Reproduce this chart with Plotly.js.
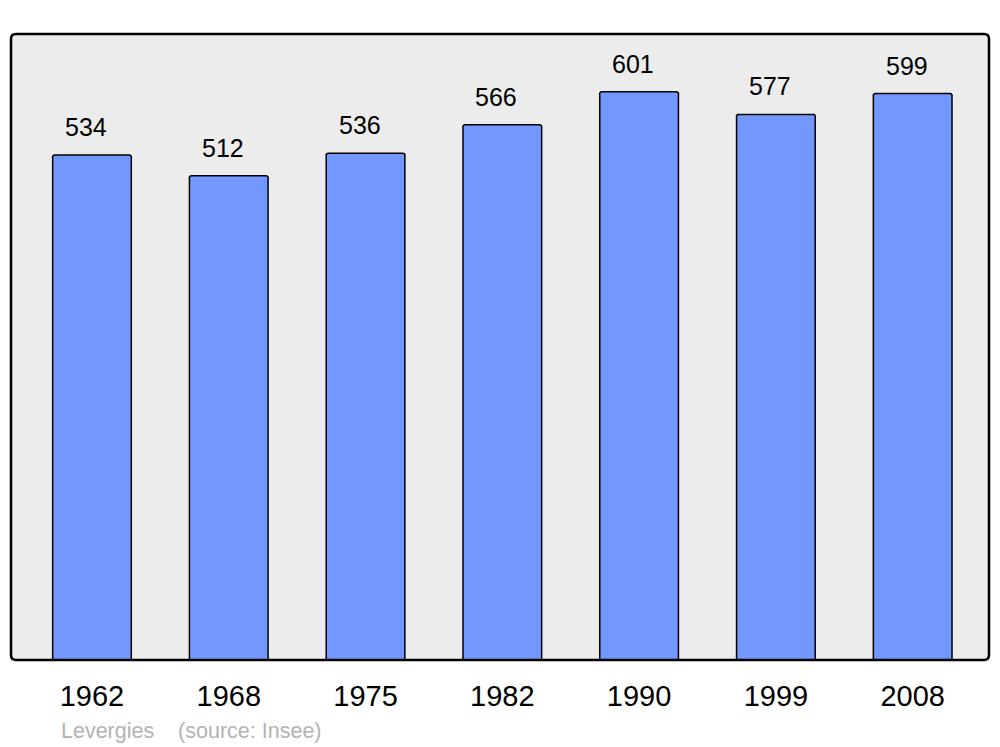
<!DOCTYPE html>
<html>
<head>
<meta charset="utf-8">
<script src="https://cdn.plot.ly/plotly-3.0.1.min.js"></script>
<style>html,body{margin:0;padding:0;background:#fff;}#chart{width:1000px;height:747px;}</style>
</head>
<body>
<div id="chart"></div>
<script>
const years = ['1962', '1968', '1975', '1982', '1990', '1999', '2008'];
const population = [534, 512, 536, 566, 601, 577, 599];
const sourceText = 'Levergies &nbsp;&nbsp; (source: Insee)';

const trace = {
  type: 'bar',
  x: years,
  y: population,
  width: 0.575,
  marker: {color: '#7298FF', line: {color: '#000000', width: 1.5}, cornerradius: 3},
  hoverinfo: 'x+y'
};

const annotations = years.map((yr, i) => ({
  x: i, y: population[i], xref: 'x', yref: 'y',
  text: String(population[i]), showarrow: false,
  yshift: 28, xshift: -6,
  font: {family: 'Liberation Sans, Arial, sans-serif', size: 25, color: '#000'}
}));
annotations.push({
  xref: 'paper', yref: 'paper', x: 0.049, y: -0.113, xanchor: 'left', yanchor: 'middle',
  text: sourceText, showarrow: false,
  font: {family: 'Liberation Sans, Arial, sans-serif', size: 21.5, color: '#b3b3b3'}
});

const r = 0.005, ry = r * 978 / 626;
const layout = {
  width: 1000, height: 747,
  margin: {l: 11, r: 11, t: 34, b: 87},
  paper_bgcolor: '#ffffff',
  plot_bgcolor: '#ececec',
  showlegend: false,
  bargap: 0,
  xaxis: {
    type: 'category', range: [-0.592, 6.558], showgrid: false, zeroline: false,
    showline: false, ticks: '', fixedrange: true,
    tickfont: {family: 'Liberation Sans, Arial, sans-serif', size: 29, color: '#000'},
    ticklabelstandoff: 16
  },
  yaxis: {
    range: [0, 662], showgrid: false, zeroline: false, showline: false,
    showticklabels: false, ticks: '', fixedrange: true
  },
  annotations: annotations,
  shapes: [{
    type: 'path', xref: 'paper', yref: 'paper',
    path: `M ${r} 0 L ${1 - r} 0 Q 1 0 1 ${ry} L 1 ${1 - ry} Q 1 1 ${1 - r} 1 L ${r} 1 Q 0 1 0 ${1 - ry} L 0 ${ry} Q 0 0 ${r} 0 Z`,
    line: {color: '#000', width: 2.5}, layer: 'above'
  }]
};

Plotly.newPlot('chart', [trace], layout, {displayModeBar: false, staticPlot: true});
</script>
</body>
</html>
